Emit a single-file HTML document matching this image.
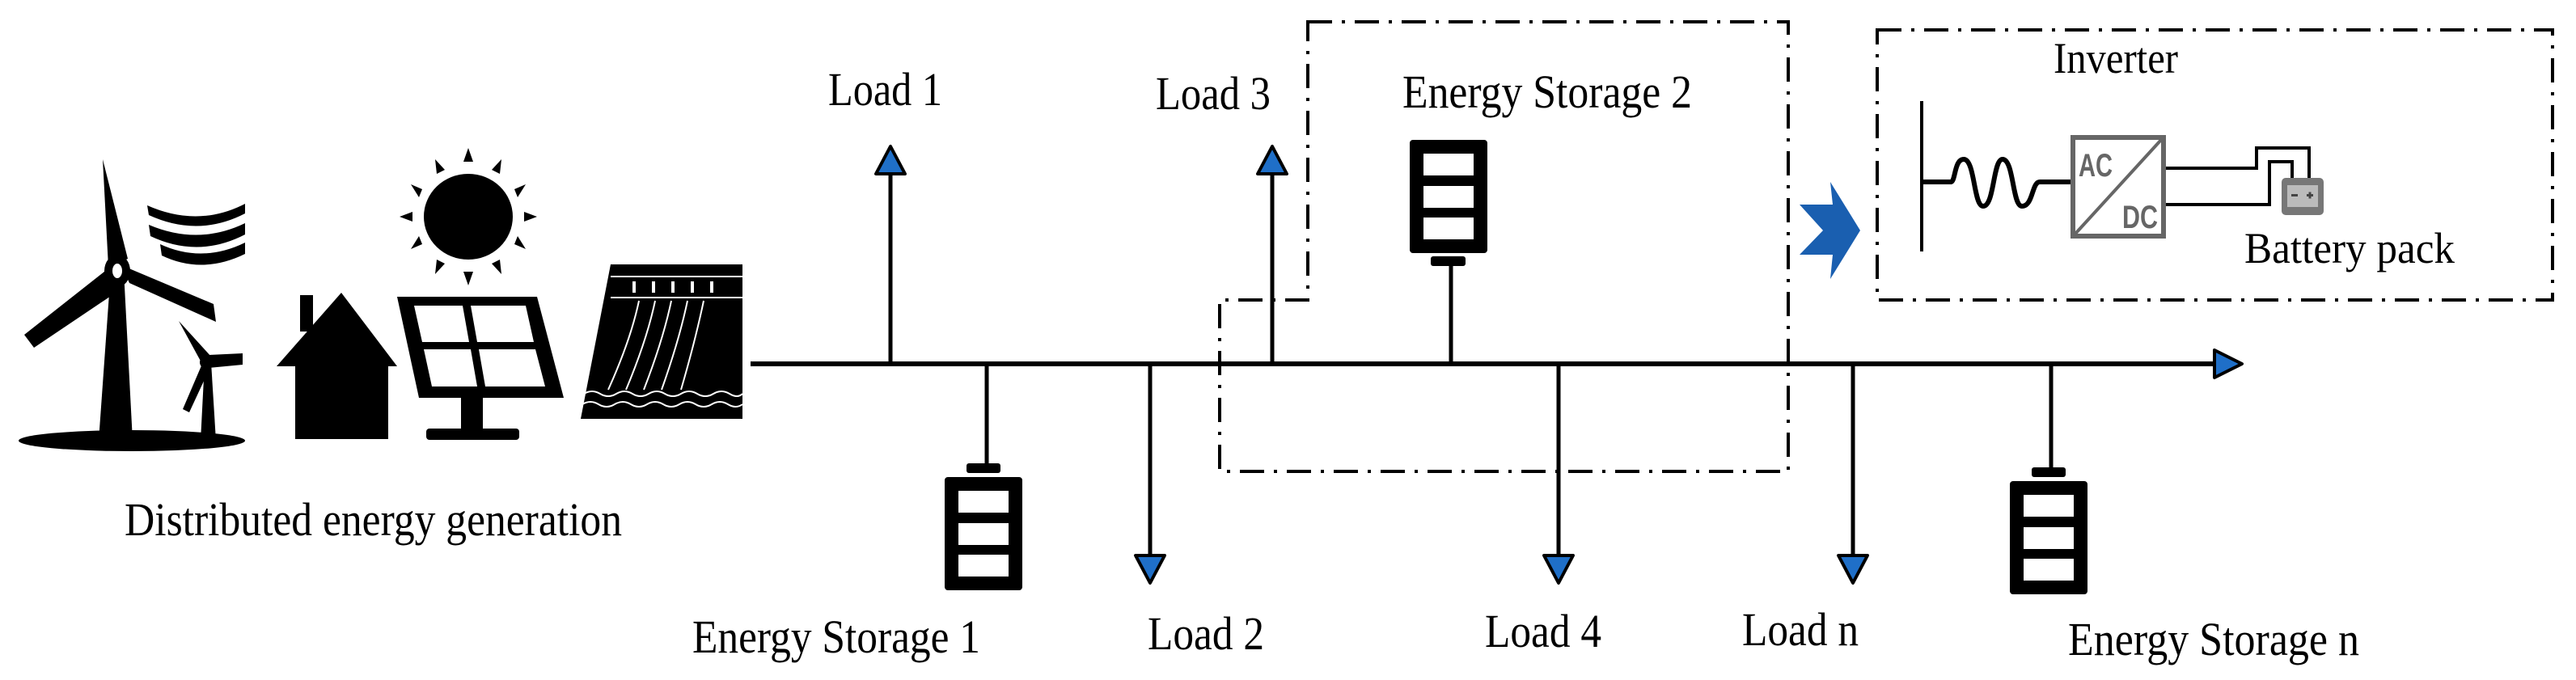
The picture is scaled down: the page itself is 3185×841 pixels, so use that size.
<!DOCTYPE html>
<html><head><meta charset="utf-8"><style>
html,body{margin:0;padding:0;background:#fff;}
svg{display:block;}
text{font-family:"Liberation Serif",serif;fill:#000;}
</style></head><body>
<svg width="3185" height="841" viewBox="0 0 3185 841" xmlns="http://www.w3.org/2000/svg">
<defs>
<g id="bat">
<rect x="0" y="0" width="96" height="140" rx="4" fill="#000"/>
<rect x="17" y="17" width="62" height="27" fill="#fff"/>
<rect x="17" y="57" width="62" height="27" fill="#fff"/>
<rect x="17" y="96" width="62" height="27" fill="#fff"/>
</g>
</defs>

<!-- Wind turbines -->
<ellipse cx="163" cy="545" rx="140" ry="13" fill="#000"/>
<polygon points="122,545 164,545 153,335 137,335" fill="#000"/>
<polygon points="127,197 158,320 134,330" fill="#000"/>
<polygon points="134,332 152,356 42,430 30,414" fill="#000"/>
<polygon points="150,328 160,350 267,398 264,376" fill="#000"/>
<ellipse cx="145" cy="335" rx="16" ry="20" fill="#000"/>
<ellipse cx="145" cy="335" rx="6" ry="9" fill="#fff"/>
<polygon points="248,545 267,545 261,448 253,448" fill="#000"/>
<polygon points="221,397 261,441 251,452" fill="#000"/>
<polygon points="258,439 300,437 300,451 258,455" fill="#000"/>
<polygon points="250,450 260,454 234,510 226,506" fill="#000"/>
<circle cx="255" cy="448" r="8" fill="#000"/>
<!-- wind lines -->
<path d="M182,254 Q245,282 303,252 L303,264 Q245,294 184,266 Z" fill="#000"/>
<path d="M184,278 Q245,304 303,276 L303,290 Q245,320 186,292 Z" fill="#000"/>
<path d="M198,302 Q250,326 303,300 L303,314 Q250,340 200,316 Z" fill="#000"/>
<!-- House -->
<polygon points="422,362 491,453 480,453 480,543 365,543 365,453 342,453" fill="#000"/>
<rect x="371" y="365" width="16" height="45" fill="#000"/>
<!-- Sun -->
<ellipse cx="579" cy="268" rx="55" ry="53" fill="#000"/>
<g fill="#000">
<polygon points="579,183 573,200 585,200"/>
<polygon points="579,353 573,336 585,336"/>
<polygon points="494,268 510,262 510,274"/>
<polygon points="664,268 648,262 648,274"/>
<polygon points="620,197 608,210 618,215"/>
<polygon points="538,197 550,210 540,215"/>
<polygon points="620,339 608,326 618,321"/>
<polygon points="538,339 550,326 540,321"/>
<polygon points="650,228 636,234 640,244"/>
<polygon points="508,228 522,234 518,244"/>
<polygon points="650,308 636,302 640,292"/>
<polygon points="508,308 522,302 518,292"/>
</g>
<!-- Solar panel -->
<polygon points="491,367 664,367 697,492 518,492" fill="#000"/>
<polygon points="512,378 572,378 580,423 522,423" fill="#fff"/>
<polygon points="582,378 650,378 660,423 590,423" fill="#fff"/>
<polygon points="524,432 582,432 590,478 534,478" fill="#fff"/>
<polygon points="592,432 662,432 674,478 600,478" fill="#fff"/>
<rect x="570" y="492" width="27" height="40" fill="#000"/>
<rect x="527" y="530" width="115" height="14" rx="4" fill="#000"/>
<!-- Hydro dam -->
<polygon points="755,327 918,327 918,518 718,518" fill="#000"/>
<rect x="755" y="327" width="163" height="10" fill="#000"/>
<line x1="755" y1="342" x2="918" y2="342" stroke="#fff" stroke-width="2"/>
<g fill="#fff"><rect x="782" y="348" width="4" height="14"/><rect x="806" y="348" width="4" height="14"/><rect x="830" y="348" width="4" height="14"/><rect x="854" y="348" width="4" height="14"/><rect x="878" y="348" width="4" height="14"/></g>
<line x1="755" y1="368" x2="918" y2="368" stroke="#fff" stroke-width="2"/>
<g stroke="#fff" stroke-width="2" fill="none">
<path d="M790,372 Q780,420 752,482"/><path d="M810,372 Q800,420 774,482"/><path d="M830,372 Q820,420 796,482"/><path d="M850,372 Q840,420 818,482"/><path d="M870,372 Q860,420 842,482"/>
<path d="M722,487 q10,-6 20,0 t20,0 t20,0 t20,0 t20,0 t20,0 t20,0 t20,0 t20,0 t16,0"/>
<path d="M720,500 q10,-6 20,0 t20,0 t20,0 t20,0 t20,0 t20,0 t20,0 t20,0 t20,0 t18,0"/>
</g>
<text x="154" y="662" font-size="58" textLength="615" lengthAdjust="spacingAndGlyphs">Distributed energy generation</text>

<!-- Dashed boxes -->
<path d="M1617,27 H2211 V583 H1508 V371 H1617 Z" fill="none" stroke="#000" stroke-width="4" stroke-dasharray="30,12,4,12"/>
<rect x="2321" y="37" width="835" height="334" fill="none" stroke="#000" stroke-width="4" stroke-dasharray="30,12,4,12"/>

<!-- Bus -->
<line x1="928" y1="450" x2="2740" y2="450" stroke="#000" stroke-width="6"/>
<polygon points="2738,433 2772,450 2738,467" fill="#1f6fc8" stroke="#000" stroke-width="4" stroke-linejoin="round"/>

<g stroke="#000" stroke-width="5">
<line x1="1101" y1="450" x2="1101" y2="214"/>
<line x1="1573" y1="450" x2="1573" y2="214"/>
<line x1="1422" y1="450" x2="1422" y2="688"/>
<line x1="1927" y1="450" x2="1927" y2="688"/>
<line x1="2291" y1="450" x2="2291" y2="688"/>
<line x1="1220" y1="450" x2="1220" y2="575"/>
<line x1="1794" y1="450" x2="1794" y2="325"/>
<line x1="2536" y1="450" x2="2536" y2="580"/>
</g>
<g fill="#1f6fc8" stroke="#000" stroke-width="4" stroke-linejoin="round">
<polygon points="1101,181 1083,215 1119,215"/>
<polygon points="1573,181 1555,215 1591,215"/>
<polygon points="1422,721 1404,687 1440,687"/>
<polygon points="1927,721 1909,687 1945,687"/>
<polygon points="2291,721 2273,687 2309,687"/>
</g>

<!-- Batteries -->
<rect x="1195" y="573" width="42" height="12" rx="3" fill="#000"/>
<use href="#bat" x="1168" y="590"/>
<rect x="1769" y="317" width="43" height="12" rx="3" fill="#000"/>
<use href="#bat" x="1743" y="173"/>
<rect x="2512" y="578" width="42" height="12" rx="3" fill="#000"/>
<use href="#bat" x="2485" y="595"/>

<!-- Labels -->
<text x="1024" y="130" font-size="58" textLength="141" lengthAdjust="spacingAndGlyphs">Load 1</text>
<text x="1429" y="135" font-size="58" textLength="142" lengthAdjust="spacingAndGlyphs">Load 3</text>
<text x="1734" y="133" font-size="58" textLength="358" lengthAdjust="spacingAndGlyphs">Energy Storage 2</text>
<text x="856" y="807" font-size="58" textLength="356" lengthAdjust="spacingAndGlyphs">Energy Storage 1</text>
<text x="1419" y="803" font-size="58" textLength="144" lengthAdjust="spacingAndGlyphs">Load 2</text>
<text x="1836" y="800" font-size="58" textLength="144" lengthAdjust="spacingAndGlyphs">Load 4</text>
<text x="2154" y="798" font-size="58" textLength="144" lengthAdjust="spacingAndGlyphs">Load n</text>
<text x="2557" y="810" font-size="58" textLength="360" lengthAdjust="spacingAndGlyphs">Energy Storage n</text>

<!-- Blue chevron -->
<polygon points="2263,225 2300,285 2263,345 2266,315 2225,315 2254,285 2225,253 2266,253" fill="#1a5fb0"/>

<!-- Inverter -->
<text x="2539" y="90" font-size="54" textLength="154" lengthAdjust="spacingAndGlyphs">Inverter</text>
<line x1="2376" y1="125" x2="2376" y2="311" stroke="#000" stroke-width="4"/>
<path d="M2376,225 H2412 C2418,225 2416,197 2428,197 C2442,197 2440,255 2452,255 C2466,255 2464,197 2476,197 C2490,197 2488,255 2500,255 C2514,255 2512,225 2522,225 H2561" fill="none" stroke="#000" stroke-width="6"/>
<rect x="2563" y="170" width="112" height="122" fill="none" stroke="#666" stroke-width="6"/>
<line x1="2566" y1="289" x2="2672" y2="173" stroke="#666" stroke-width="4"/>
<text x="2570" y="218" font-size="40" font-weight="bold" style="fill:#666;font-family:'Liberation Sans',sans-serif" textLength="42" lengthAdjust="spacingAndGlyphs">AC</text>
<text x="2624" y="282" font-size="40" font-weight="bold" style="fill:#666;font-family:'Liberation Sans',sans-serif" textLength="44" lengthAdjust="spacingAndGlyphs">DC</text>
<path d="M2678,208 H2790 V183 H2855 V220" fill="none" stroke="#000" stroke-width="4"/>
<path d="M2678,253 H2806 V200 H2834 V220" fill="none" stroke="#000" stroke-width="4"/>
<rect x="2821" y="220" width="52" height="46" rx="5" fill="#777"/>
<rect x="2828" y="229" width="38" height="27" fill="#bbb"/>
<rect x="2833" y="240" width="8" height="3" fill="#444"/>
<rect x="2852" y="240" width="8" height="3" fill="#444"/><rect x="2854.5" y="237.5" width="3" height="8" fill="#444"/>
<text x="2775" y="325" font-size="54" textLength="260" lengthAdjust="spacingAndGlyphs">Battery pack</text>
</svg>
</body></html>
